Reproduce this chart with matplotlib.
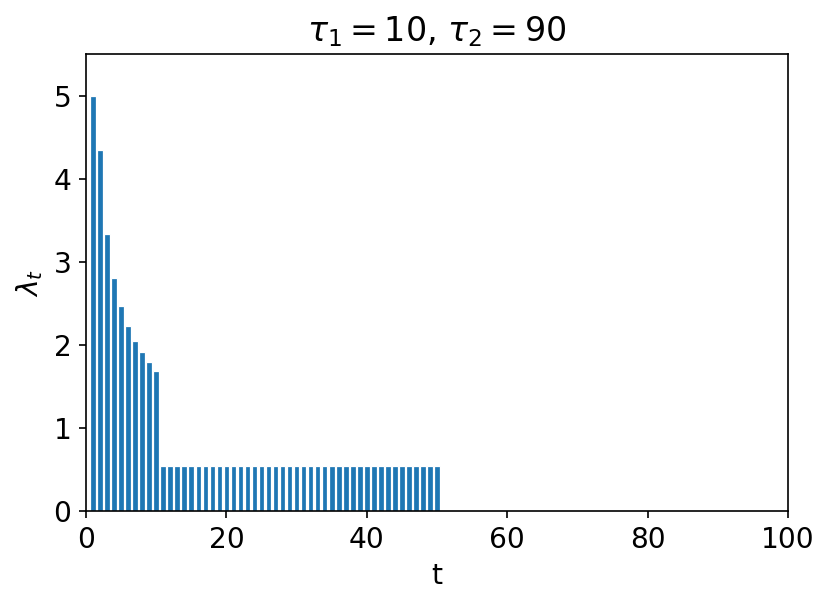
import matplotlib
matplotlib.use("Agg")
import matplotlib.pyplot as plt
import numpy as np

t_values = list(range(1, 51))
lam_head = [5.0, 4.35, 3.33, 2.80, 2.47, 2.23, 2.05, 1.91, 1.79, 1.69]
lam_tail_value = 0.545
lam_values = lam_head + [lam_tail_value] * (len(t_values) - len(lam_head))

plt.rcParams['font.size'] = 13.5
fig = plt.figure(figsize=(831/150, 606/150), dpi=150)
ax = fig.add_axes([86/831, 1 - 511/606, (788-86)/831, (511-54)/606])
ax.bar(t_values, lam_values, width=0.8, color='#1f77b4', edgecolor='white', linewidth=0.6)
ax.set_xlim(0, 100)
ax.set_ylim(0, 5.5)
ax.set_xlabel('t')
ax.set_ylabel(r'$\lambda_t$')
ax.set_title(r'$\tau_1 = 10$, $\tau_2 = 90$', fontsize=16)
fig.savefig('out.png', dpi=150)
